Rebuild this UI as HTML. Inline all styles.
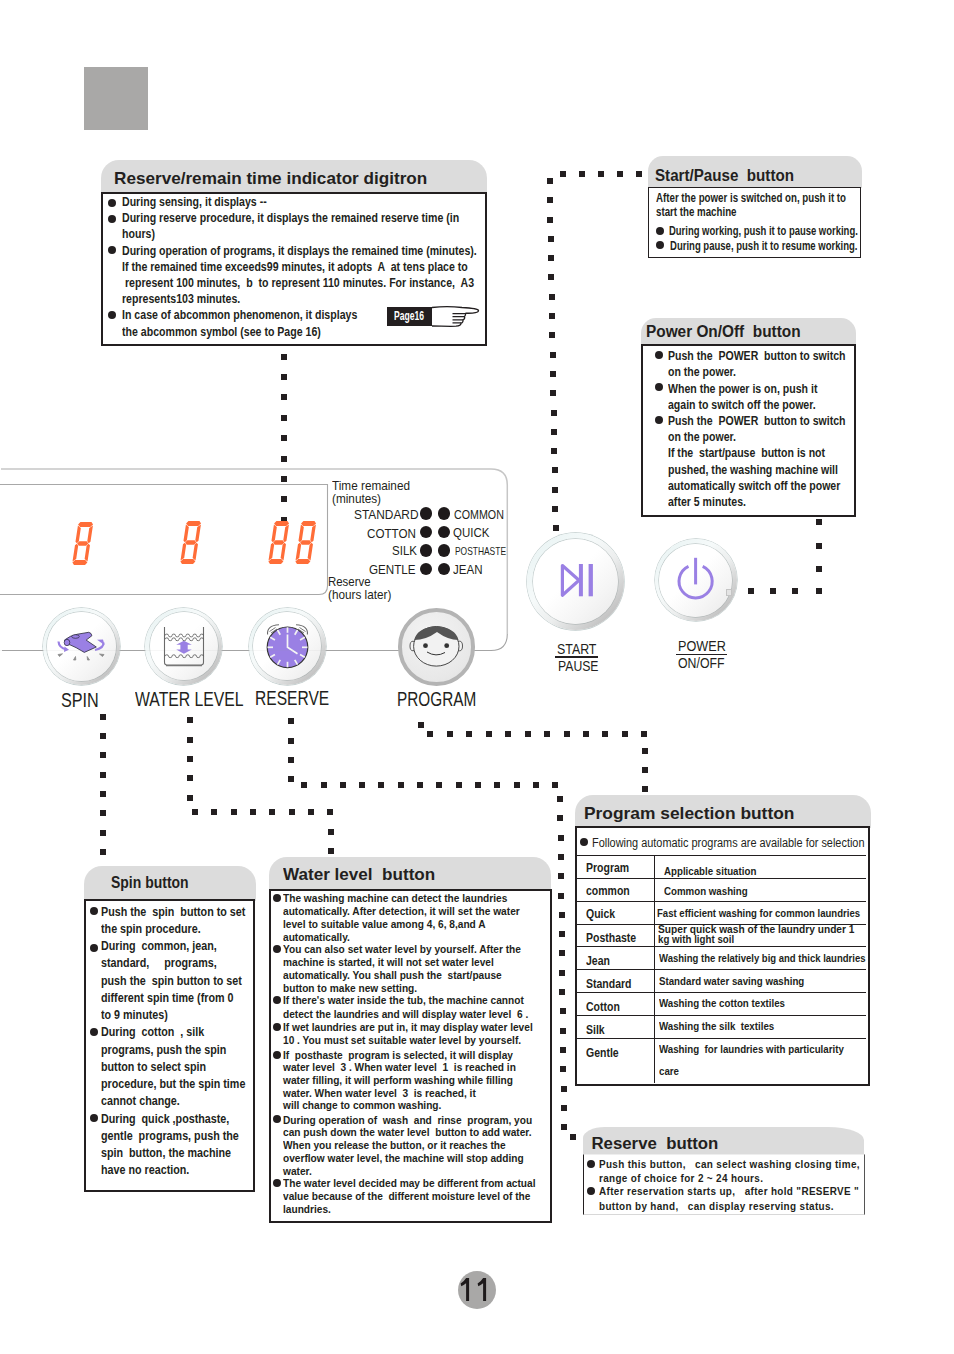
<!DOCTYPE html><html><head><meta charset="utf-8"><style>
html,body{margin:0;padding:0;background:#fff;}
body{width:954px;height:1354px;position:relative;overflow:hidden;font-family:"Liberation Sans",sans-serif;}
.t{position:absolute;white-space:pre;transform-origin:0 0;}
.b{position:absolute;border-radius:50%;}
.d{position:absolute;width:6px;height:6px;background:#231f20;}
.btn{position:absolute;border-radius:50%;background:linear-gradient(135deg,#e6f2f2 0%,#f6fafa 38%,#eceeee 58%,#c8c8c8 82%,#acacac 100%);box-shadow:0 0 0 0.7px rgba(185,198,198,0.9);}
.bi{position:absolute;border-radius:50%;background:linear-gradient(135deg,#ffffff 0%,#ffffff 45%,#f5f5f5 72%,#e8e8e8 100%);box-shadow:0 0 0 0.7px rgba(150,160,160,0.55);}
</style></head><body>
<div style="position:absolute;left:84.00px;top:67.00px;width:64.00px;height:63.00px;background:#a9a8a7"></div>
<div style="position:absolute;left:101.00px;top:160.00px;width:386.00px;height:34.00px;background:#dcdcdc;border-radius:18px 18px 0 0"></div>
<div style="position:absolute;left:101.00px;top:192.00px;width:386.00px;height:154.00px;border:2px solid #231f20;box-sizing:border-box;"></div>
<div class="t" style="left:114.30px;top:169.31px;font-size:17px;line-height:20.4px;font-weight:700;color:#231f20;transform:scaleX(1.0080);">Reserve/remain time indicator digitron</div>
<div class="t" style="left:122.00px;top:194.97px;font-size:12.5px;line-height:15.0px;font-weight:700;color:#231f20;transform:scaleX(0.8470);">During sensing, it displays --</div>
<div class="b" style="left:108.20px;top:199.20px;width:8px;height:8px;background:#231f20"></div>
<div class="t" style="left:122.00px;top:211.17px;font-size:12.5px;line-height:15.0px;font-weight:700;color:#231f20;transform:scaleX(0.8470);">During reserve procedure, it displays the remained reserve time (in</div>
<div class="b" style="left:108.20px;top:215.40px;width:8px;height:8px;background:#231f20"></div>
<div class="t" style="left:122.00px;top:227.37px;font-size:12.5px;line-height:15.0px;font-weight:700;color:#231f20;transform:scaleX(0.8470);">hours)</div>
<div class="t" style="left:122.00px;top:243.57px;font-size:12.5px;line-height:15.0px;font-weight:700;color:#231f20;transform:scaleX(0.8470);">During operation of programs, it displays the remained time (minutes).</div>
<div class="b" style="left:108.20px;top:246.40px;width:8px;height:8px;background:#231f20"></div>
<div class="t" style="left:122.00px;top:259.77px;font-size:12.5px;line-height:15.0px;font-weight:700;color:#231f20;transform:scaleX(0.8470);">If the remained time exceeds99 minutes, it adopts  A  at tens place to</div>
<div class="t" style="left:122.00px;top:275.97px;font-size:12.5px;line-height:15.0px;font-weight:700;color:#231f20;transform:scaleX(0.8470);"> represent 100 minutes,  b  to represent 110 minutes. For instance,  A3</div>
<div class="t" style="left:122.00px;top:292.17px;font-size:12.5px;line-height:15.0px;font-weight:700;color:#231f20;transform:scaleX(0.8470);">represents103 minutes.</div>
<div class="t" style="left:122.00px;top:308.37px;font-size:12.5px;line-height:15.0px;font-weight:700;color:#231f20;transform:scaleX(0.8470);">In case of abcommon phenomenon, it displays</div>
<div class="b" style="left:108.20px;top:311.20px;width:8px;height:8px;background:#231f20"></div>
<div class="t" style="left:122.00px;top:324.57px;font-size:12.5px;line-height:15.0px;font-weight:700;color:#231f20;transform:scaleX(0.8470);">the abcommon symbol (see to Page 16)</div>
<div style="position:absolute;left:387.00px;top:307.00px;width:45.00px;height:19.00px;background:#231f20"></div>
<div class="t" style="left:394.40px;top:309.24px;font-size:12px;line-height:14.4px;font-weight:700;color:#fff;transform:scaleX(0.7138);">Page16</div>
<svg style="position:absolute;left:428px;top:302px" width="56" height="30" viewBox="0 0 56 30">
<path d="M4 5.5 C12 4.5 22 4 34 5.5 C44 6 50 6.5 50.5 8.5 C51 10.5 46 11.5 38 11.2 L37.5 11.5 C38 13 37 14 36.5 14.5 C37 16 36 17.5 35 18 C35.5 19.5 34 21 33 21.2 C33 23 31 24 28 24.2 C20 24.5 12 24 4 24" fill="#fff" stroke="#231f20" stroke-width="1.3"/>
<path d="M24.5 11.6 H37 M24.5 14.6 H36.5 M24.5 17.8 H35 M24.5 20.8 H33" stroke="#231f20" stroke-width="1.2" fill="none"/>
</svg>
<div class="d" style="left:281.30px;top:353.60px"></div>
<div class="d" style="left:281.30px;top:374.00px"></div>
<div class="d" style="left:281.30px;top:394.40px"></div>
<div class="d" style="left:281.30px;top:414.80px"></div>
<div class="d" style="left:281.30px;top:435.20px"></div>
<div class="d" style="left:281.30px;top:455.60px"></div>
<div class="d" style="left:281.30px;top:476.00px"></div>
<div class="d" style="left:281.30px;top:496.40px"></div>
<div class="d" style="left:281.30px;top:516.80px"></div>
<div style="position:absolute;left:648.00px;top:156.00px;width:214.00px;height:32.00px;background:#dcdcdc;border-radius:15px 15px 0 0"></div>
<div style="position:absolute;left:648.00px;top:186.50px;width:213.00px;height:71.00px;border:1.5px solid #231f20;box-sizing:border-box;"></div>
<div class="t" style="left:655.20px;top:166.06px;font-size:16px;line-height:19.2px;font-weight:700;color:#231f20;transform:scaleX(0.9476);">Start/Pause  button</div>
<div class="t" style="left:656.00px;top:191.34px;font-size:12px;line-height:14.4px;font-weight:700;color:#231f20;transform:scaleX(0.8096);">After the power is switched on, push it to</div>
<div class="t" style="left:656.00px;top:205.14px;font-size:12px;line-height:14.4px;font-weight:700;color:#231f20;transform:scaleX(0.8100);">start the machine</div>
<div class="t" style="left:668.70px;top:224.44px;font-size:12px;line-height:14.4px;font-weight:700;color:#231f20;transform:scaleX(0.7888);">During working, push it to pause working.</div>
<div class="b" style="left:656.00px;top:227.00px;width:8px;height:8px;background:#231f20"></div>
<div class="t" style="left:669.50px;top:238.74px;font-size:12px;line-height:14.4px;font-weight:700;color:#231f20;transform:scaleX(0.7944);">During pause, push it to resume working.</div>
<div class="b" style="left:656.00px;top:241.30px;width:8px;height:8px;background:#231f20"></div>
<div class="d" style="left:559.50px;top:171.20px"></div>
<div class="d" style="left:578.50px;top:171.20px"></div>
<div class="d" style="left:597.70px;top:171.20px"></div>
<div class="d" style="left:616.70px;top:171.20px"></div>
<div class="d" style="left:635.90px;top:171.20px"></div>
<div class="d" style="left:546.50px;top:177.90px"></div>
<div class="d" style="left:546.85px;top:197.20px"></div>
<div class="d" style="left:547.20px;top:216.50px"></div>
<div class="d" style="left:547.55px;top:235.80px"></div>
<div class="d" style="left:547.90px;top:255.10px"></div>
<div class="d" style="left:548.25px;top:274.40px"></div>
<div class="d" style="left:548.60px;top:293.70px"></div>
<div class="d" style="left:548.95px;top:313.00px"></div>
<div class="d" style="left:549.30px;top:332.30px"></div>
<div class="d" style="left:549.65px;top:351.60px"></div>
<div class="d" style="left:550.00px;top:370.90px"></div>
<div class="d" style="left:550.35px;top:390.20px"></div>
<div class="d" style="left:550.70px;top:409.50px"></div>
<div class="d" style="left:551.05px;top:428.80px"></div>
<div class="d" style="left:551.40px;top:448.10px"></div>
<div class="d" style="left:551.75px;top:467.40px"></div>
<div class="d" style="left:552.10px;top:486.70px"></div>
<div class="d" style="left:552.45px;top:506.00px"></div>
<div class="d" style="left:552.80px;top:525.30px"></div>
<div style="position:absolute;left:641.00px;top:318.30px;width:214.50px;height:27.70px;background:#dcdcdc;border-radius:15px 15px 0 0"></div>
<div style="position:absolute;left:641.00px;top:344.00px;width:214.50px;height:173.00px;border:2px solid #231f20;box-sizing:border-box;"></div>
<div class="t" style="left:646.40px;top:322.06px;font-size:16px;line-height:19.2px;font-weight:700;color:#231f20;transform:scaleX(0.9610);">Power On/Off  button</div>
<div class="t" style="left:668.20px;top:349.24px;font-size:12px;line-height:14.4px;font-weight:700;color:#231f20;transform:scaleX(0.8790);">Push the  POWER  button to switch</div>
<div class="b" style="left:655.20px;top:350.80px;width:8px;height:8px;background:#231f20"></div>
<div class="t" style="left:668.20px;top:365.44px;font-size:12px;line-height:14.4px;font-weight:700;color:#231f20;transform:scaleX(0.8790);">on the power.</div>
<div class="t" style="left:668.20px;top:381.64px;font-size:12px;line-height:14.4px;font-weight:700;color:#231f20;transform:scaleX(0.8790);">When the power is on, push it</div>
<div class="b" style="left:655.20px;top:383.20px;width:8px;height:8px;background:#231f20"></div>
<div class="t" style="left:668.20px;top:397.84px;font-size:12px;line-height:14.4px;font-weight:700;color:#231f20;transform:scaleX(0.8790);">again to switch off the power.</div>
<div class="t" style="left:668.20px;top:414.04px;font-size:12px;line-height:14.4px;font-weight:700;color:#231f20;transform:scaleX(0.8790);">Push the  POWER  button to switch</div>
<div class="b" style="left:655.20px;top:415.60px;width:8px;height:8px;background:#231f20"></div>
<div class="t" style="left:668.20px;top:430.24px;font-size:12px;line-height:14.4px;font-weight:700;color:#231f20;transform:scaleX(0.8790);">on the power.</div>
<div class="t" style="left:668.20px;top:446.44px;font-size:12px;line-height:14.4px;font-weight:700;color:#231f20;transform:scaleX(0.8790);">If the  start/pause  button is not</div>
<div class="t" style="left:668.20px;top:462.64px;font-size:12px;line-height:14.4px;font-weight:700;color:#231f20;transform:scaleX(0.8790);">pushed, the washing machine will</div>
<div class="t" style="left:668.20px;top:478.84px;font-size:12px;line-height:14.4px;font-weight:700;color:#231f20;transform:scaleX(0.8790);">automatically switch off the power</div>
<div class="t" style="left:668.20px;top:495.04px;font-size:12px;line-height:14.4px;font-weight:700;color:#231f20;transform:scaleX(0.8790);">after 5 minutes.</div>
<div class="d" style="left:815.70px;top:519.10px"></div>
<div class="d" style="left:815.70px;top:542.50px"></div>
<div class="d" style="left:815.70px;top:566.20px"></div>
<div class="d" style="left:748.20px;top:587.80px"></div>
<div class="d" style="left:770.30px;top:587.80px"></div>
<div class="d" style="left:792.30px;top:587.80px"></div>
<div class="d" style="left:815.70px;top:587.80px"></div>
<svg style="position:absolute;left:0;top:0" width="954" height="700" viewBox="0 0 954 700">
<path d="M1 469 H491 Q507.3 469 507.3 485 V634" fill="none" stroke="#c6c6c6" stroke-width="1.5"/>
<path d="M507.3 634 Q507.3 650.5 491 650.5 H2" fill="none" stroke="#a4a4a4" stroke-width="1.1"/>
<path d="M0 484.5 H327.5 V586 Q327.5 594.5 319 594.5 H0" fill="none" stroke="#a8a8a8" stroke-width="1.1"/>
</svg>
<svg style="position:absolute;left:72.00px;top:521.50px" width="23" height="44"><path d="M8.45,0.00 L19.45,0.00 L21.07,2.50 L18.20,5.00 L8.20,5.00 L6.08,2.50 Z M5.94,3.40 L8.85,6.00 L6.87,19.20 L4.87,21.20 L3.48,19.80 Z M20.94,3.40 L18.48,19.80 L16.67,21.20 L15.27,19.20 L17.25,6.00 Z M5.12,21.50 L7.46,19.30 L14.65,19.30 L16.32,21.50 L13.99,23.70 L6.79,23.70 Z M2.97,23.20 L4.78,21.80 L6.18,23.80 L4.20,37.00 L0.51,39.60 Z M17.97,23.20 L15.51,39.60 L12.60,37.00 L14.58,23.80 L16.58,21.80 Z M0.38,40.50 L3.25,38.00 L13.25,38.00 L15.38,40.50 L13.00,43.00 L2.00,43.00 Z " fill="#ff6d38"/></svg>
<svg style="position:absolute;left:179.60px;top:520.70px" width="23" height="44"><path d="M8.45,0.00 L19.45,0.00 L21.07,2.50 L18.20,5.00 L8.20,5.00 L6.08,2.50 Z M5.94,3.40 L8.85,6.00 L6.87,19.20 L4.87,21.20 L3.48,19.80 Z M20.94,3.40 L18.48,19.80 L16.67,21.20 L15.27,19.20 L17.25,6.00 Z M5.12,21.50 L7.46,19.30 L14.65,19.30 L16.32,21.50 L13.99,23.70 L6.79,23.70 Z M2.97,23.20 L4.78,21.80 L6.18,23.80 L4.20,37.00 L0.51,39.60 Z M17.97,23.20 L15.51,39.60 L12.60,37.00 L14.58,23.80 L16.58,21.80 Z M0.38,40.50 L3.25,38.00 L13.25,38.00 L15.38,40.50 L13.00,43.00 L2.00,43.00 Z " fill="#ff6d38"/></svg>
<svg style="position:absolute;left:267.60px;top:521.00px" width="23" height="44"><path d="M8.45,0.00 L19.45,0.00 L21.07,2.50 L18.20,5.00 L8.20,5.00 L6.08,2.50 Z M5.94,3.40 L8.85,6.00 L6.87,19.20 L4.87,21.20 L3.48,19.80 Z M20.94,3.40 L18.48,19.80 L16.67,21.20 L15.27,19.20 L17.25,6.00 Z M5.12,21.50 L7.46,19.30 L14.65,19.30 L16.32,21.50 L13.99,23.70 L6.79,23.70 Z M2.97,23.20 L4.78,21.80 L6.18,23.80 L4.20,37.00 L0.51,39.60 Z M17.97,23.20 L15.51,39.60 L12.60,37.00 L14.58,23.80 L16.58,21.80 Z M0.38,40.50 L3.25,38.00 L13.25,38.00 L15.38,40.50 L13.00,43.00 L2.00,43.00 Z " fill="#ff6d38"/></svg>
<svg style="position:absolute;left:295.00px;top:521.00px" width="23" height="44"><path d="M8.45,0.00 L19.45,0.00 L21.07,2.50 L18.20,5.00 L8.20,5.00 L6.08,2.50 Z M5.94,3.40 L8.85,6.00 L6.87,19.20 L4.87,21.20 L3.48,19.80 Z M20.94,3.40 L18.48,19.80 L16.67,21.20 L15.27,19.20 L17.25,6.00 Z M5.12,21.50 L7.46,19.30 L14.65,19.30 L16.32,21.50 L13.99,23.70 L6.79,23.70 Z M2.97,23.20 L4.78,21.80 L6.18,23.80 L4.20,37.00 L0.51,39.60 Z M17.97,23.20 L15.51,39.60 L12.60,37.00 L14.58,23.80 L16.58,21.80 Z M0.38,40.50 L3.25,38.00 L13.25,38.00 L15.38,40.50 L13.00,43.00 L2.00,43.00 Z " fill="#ff6d38"/></svg>
<div class="t" style="left:331.50px;top:478.30px;font-size:13px;line-height:15.6px;font-weight:400;color:#231f20;transform:scaleX(0.9047);">Time remained</div>
<div class="t" style="left:331.50px;top:490.50px;font-size:13px;line-height:15.6px;font-weight:400;color:#231f20;transform:scaleX(0.9050);">(minutes)</div>
<div class="t" style="left:354.00px;top:506.72px;font-size:13.5px;line-height:16.2px;font-weight:400;color:#231f20;transform:scaleX(0.8805);">STANDARD</div>
<div class="t" style="left:367.20px;top:525.62px;font-size:13.5px;line-height:16.2px;font-weight:400;color:#231f20;transform:scaleX(0.8599);">COTTON</div>
<div class="t" style="left:392.00px;top:543.42px;font-size:13.5px;line-height:16.2px;font-weight:400;color:#231f20;transform:scaleX(0.8542);">SILK</div>
<div class="t" style="left:368.80px;top:561.62px;font-size:13.5px;line-height:16.2px;font-weight:400;color:#231f20;transform:scaleX(0.8627);">GENTLE</div>
<div class="t" style="left:453.50px;top:507.20px;font-size:13px;line-height:15.6px;font-weight:400;color:#231f20;transform:scaleX(0.8226);">COMMON</div>
<div class="t" style="left:453.00px;top:525.22px;font-size:13.5px;line-height:16.2px;font-weight:400;color:#231f20;transform:scaleX(0.8514);">QUICK</div>
<div class="t" style="left:455.20px;top:544.72px;font-size:11.5px;line-height:13.8px;font-weight:400;color:#231f20;transform:scaleX(0.7322);">POSTHASTE</div>
<div class="t" style="left:453.00px;top:562.02px;font-size:13.5px;line-height:16.2px;font-weight:400;color:#231f20;transform:scaleX(0.8548);">JEAN</div>
<div class="t" style="left:328.00px;top:573.70px;font-size:13px;line-height:15.6px;font-weight:400;color:#231f20;transform:scaleX(0.8800);">Reserve</div>
<div class="t" style="left:328.00px;top:586.90px;font-size:13px;line-height:15.6px;font-weight:400;color:#231f20;transform:scaleX(0.9032);">(hours later)</div>
<div class="b" style="left:419.60px;top:507.20px;width:12.6px;height:12.6px;background:#1e1a1b"></div>
<div class="b" style="left:437.80px;top:507.20px;width:12.6px;height:12.6px;background:#1e1a1b"></div>
<div class="b" style="left:419.60px;top:525.60px;width:12.6px;height:12.6px;background:#1e1a1b"></div>
<div class="b" style="left:437.80px;top:525.60px;width:12.6px;height:12.6px;background:#1e1a1b"></div>
<div class="b" style="left:419.60px;top:544.30px;width:12.6px;height:12.6px;background:#1e1a1b"></div>
<div class="b" style="left:437.80px;top:544.30px;width:12.6px;height:12.6px;background:#1e1a1b"></div>
<div class="b" style="left:419.60px;top:562.70px;width:12.6px;height:12.6px;background:#1e1a1b"></div>
<div class="b" style="left:437.80px;top:562.70px;width:12.6px;height:12.6px;background:#1e1a1b"></div>
<div class="btn" style="left:42.50px;top:607.80px;width:77.60px;height:77.60px"><div class="bi" style="left:4.50px;top:4.50px;width:68.60px;height:68.60px"></div></div>
<div class="btn" style="left:145.40px;top:607.70px;width:77.00px;height:77.00px"><div class="bi" style="left:4.50px;top:4.50px;width:68.00px;height:68.00px"></div></div>
<div class="btn" style="left:248.90px;top:607.50px;width:77.00px;height:77.00px"><div class="bi" style="left:4.50px;top:4.50px;width:68.00px;height:68.00px"></div></div>
<div style="position:absolute;left:397.6px;top:608.2px;width:77.4px;height:77.4px;border-radius:50%;box-sizing:border-box;border:4px solid #b4b4b4;background:radial-gradient(circle at 40% 35%,#f4f4f4,#e8e8e8 70%,#dedede)"></div>
<div class="btn" style="left:527.00px;top:533.00px;width:96.60px;height:96.60px"><div class="bi" style="left:5.50px;top:5.50px;width:85.60px;height:85.60px"></div></div>
<div class="btn" style="left:654.80px;top:539.30px;width:82.00px;height:82.00px"><div class="bi" style="left:4.50px;top:4.50px;width:73.00px;height:73.00px"></div></div>
<svg style="position:absolute;left:51px;top:620px" width="60" height="50" viewBox="51 620 60 50">
<path d="M58.5 641.5 Q59 648 66.5 649.5" fill="none" stroke="#9a80e4" stroke-width="2.2"/>
<path d="M64.5 646.5 L69 649.8 L64 652 Z" fill="#9a80e4"/>
<path d="M95 650 Q104 648 103.5 642.5" fill="none" stroke="#9a80e4" stroke-width="2.2"/>
<path d="M97 639.8 L103 639.5 L104.5 645 Z" fill="#9a80e4"/>
<path d="M64.5 640 Q70 635.5 77.4 634.2 L88.7 632.3 Q91.5 632.8 91.9 635.7 L86.2 640.1 L96.3 647 L84.3 652.4 L76.2 647.7 L69.9 644.8 Q65 644.5 64.5 640 Z" fill="#9a80e4" stroke="#2a2a3a" stroke-width="0.8" stroke-linejoin="round"/>
<ellipse cx="67" cy="642.5" rx="2.8" ry="3.2" fill="#9a80e4" stroke="#2a2a3a" stroke-width="0.7"/>
<ellipse cx="75.5" cy="636.5" rx="3.8" ry="1.8" fill="#9a80e4" stroke="#2a2a3a" stroke-width="0.7"/>
<path d="M58 654.5 L62.5 653.8 L59.5 656.5 Z M73.5 660 L75.5 656.5 L75.8 660 Z M87.2 656.5 L89.5 660 L87.5 660 Z M99.5 654 L104 654.5 L102.5 656.5 Z" fill="#8a8a8a" stroke="#8a8a8a" stroke-width="0.8"/>
</svg>
<svg style="position:absolute;left:155px;top:615px" width="60" height="60" viewBox="155 615 60 60">
<path d="M164.5 627 V662.5 Q164.5 665 167 665 H201 Q203.5 665 203.5 662.5 V627" fill="none" stroke="#6a6a6a" stroke-width="1.1"/>
<path d="M166 665.6 H202" stroke="#777" stroke-width="1.2"/>
<path d="M165 635.5 a1.75 1.4 0 0 1 3.5 0 a1.75 1.4 0 0 0 3.5 0 a1.75 1.4 0 0 1 3.5 0 a1.75 1.4 0 0 0 3.5 0 a1.75 1.4 0 0 1 3.5 0 a1.75 1.4 0 0 0 3.5 0 a1.75 1.4 0 0 1 3.5 0 a1.75 1.4 0 0 0 3.5 0 a1.75 1.4 0 0 1 3.5 0 a1.75 1.4 0 0 0 3.5 0 a1.75 1.4 0 0 1 3.5 0" transform="translate(0,0)" fill="none" stroke="#555" stroke-width="0.8"/>
<path d="M165 639.3 a1.75 1.4 0 0 1 3.5 0 a1.75 1.4 0 0 0 3.5 0 a1.75 1.4 0 0 1 3.5 0 a1.75 1.4 0 0 0 3.5 0 a1.75 1.4 0 0 1 3.5 0 a1.75 1.4 0 0 0 3.5 0 a1.75 1.4 0 0 1 3.5 0 a1.75 1.4 0 0 0 3.5 0 a1.75 1.4 0 0 1 3.5 0 a1.75 1.4 0 0 0 3.5 0 a1.75 1.4 0 0 1 3.5 0" fill="none" stroke="#555" stroke-width="0.8"/>
<path d="M165 656.2 a1.75 1.4 0 0 1 3.5 0 a1.75 1.4 0 0 0 3.5 0 a1.75 1.4 0 0 1 3.5 0 a1.75 1.4 0 0 0 3.5 0 a1.75 1.4 0 0 1 3.5 0 a1.75 1.4 0 0 0 3.5 0 a1.75 1.4 0 0 1 3.5 0 a1.75 1.4 0 0 0 3.5 0 a1.75 1.4 0 0 1 3.5 0 a1.75 1.4 0 0 0 3.5 0 a1.75 1.4 0 0 1 3.5 0" fill="none" stroke="#555" stroke-width="0.8"/>
<path d="M183.9 640.8 L191.8 644.8 H187.7 V649.4 H191.8 L183.9 653.7 L176.2 649.4 H180.4 V644.8 H176.2 Z" fill="#9a80e4"/>
</svg>
<svg style="position:absolute;left:257px;top:616px" width="60" height="60" viewBox="257 616 60 60">
<path d="M267.6 634.5 Q266.5 625.5 279 624.8" fill="none" stroke="#6a6a6a" stroke-width="1.1"/>
<path d="M269.5 631.5 L275.5 627.5 M271 633 L277 629" stroke="#6a6a6a" stroke-width="0.9"/>
<path d="M307.4 634.5 Q308.5 625.5 296 624.8" fill="none" stroke="#6a6a6a" stroke-width="1.1"/>
<path d="M305.5 631.5 L299.5 627.5 M304 633 L298 629" stroke="#6a6a6a" stroke-width="0.9"/>
<circle cx="287.5" cy="647.3" r="20.3" fill="#9a80e4" stroke="#333" stroke-width="1.2"/>
<line x1="287.50" y1="632.80" x2="287.50" y2="627.30" stroke="#f2f2f2" stroke-width="1.7"/><line x1="294.75" y1="634.74" x2="297.50" y2="629.98" stroke="#f2f2f2" stroke-width="1.7"/><line x1="300.06" y1="640.05" x2="304.82" y2="637.30" stroke="#f2f2f2" stroke-width="1.7"/><line x1="302.00" y1="647.30" x2="307.50" y2="647.30" stroke="#f2f2f2" stroke-width="1.7"/><line x1="300.06" y1="654.55" x2="304.82" y2="657.30" stroke="#f2f2f2" stroke-width="1.7"/><line x1="294.75" y1="659.86" x2="297.50" y2="664.62" stroke="#f2f2f2" stroke-width="1.7"/><line x1="287.50" y1="661.80" x2="287.50" y2="667.30" stroke="#f2f2f2" stroke-width="1.7"/><line x1="280.25" y1="659.86" x2="277.50" y2="664.62" stroke="#f2f2f2" stroke-width="1.7"/><line x1="274.94" y1="654.55" x2="270.18" y2="657.30" stroke="#f2f2f2" stroke-width="1.7"/><line x1="273.00" y1="647.30" x2="267.50" y2="647.30" stroke="#f2f2f2" stroke-width="1.7"/><line x1="274.94" y1="640.05" x2="270.18" y2="637.30" stroke="#f2f2f2" stroke-width="1.7"/><line x1="280.25" y1="634.74" x2="277.50" y2="629.98" stroke="#f2f2f2" stroke-width="1.7"/>
<path d="M287.5 634.5 V647.3 L297.5 653.8" fill="none" stroke="#f5f5f5" stroke-width="1.7"/>
</svg>
<svg style="position:absolute;left:400px;top:615px" width="72" height="62" viewBox="400 615 72 62">
<ellipse cx="413" cy="646" rx="3" ry="4.8" fill="#f2f2f2" stroke="#333" stroke-width="0.8"/>
<ellipse cx="459.5" cy="646" rx="3" ry="4.8" fill="#f2f2f2" stroke="#333" stroke-width="0.8"/>
<ellipse cx="436.3" cy="646.3" rx="22.7" ry="19.8" fill="#f2f2f2" stroke="#333" stroke-width="0.9"/>
<path d="M414.2 640 Q417 627.5 436.3 626.5 Q455.5 627.5 458.5 640 Q448 640 437 632 Q426 640 414.2 640 Z" fill="#555"/>
<circle cx="425.5" cy="645.7" r="2.4" fill="#333"/>
<circle cx="446.7" cy="645.7" r="2.4" fill="#333"/>
<path d="M427 652 Q436 657.5 445 652.5" fill="none" stroke="#333" stroke-width="1"/>
</svg>
<svg style="position:absolute;left:550px;top:556px" width="50" height="50" viewBox="550 556 50 50">
<path d="M562.4 565.5 L579 580.3 L562.4 595.2 Z" fill="none" stroke="#9a80e4" stroke-width="3.2" stroke-linejoin="round"/>
<rect x="578.9" y="564" width="4" height="32.3" fill="#9a80e4"/>
<rect x="588.6" y="564" width="4.3" height="32.3" fill="#9a80e4"/>
</svg>
<svg style="position:absolute;left:670px;top:550px" width="52" height="52" viewBox="670 550 52 52">
<path d="M688.5 566.3 A16.6 16.6 0 1 0 702.7 566.3" fill="none" stroke="#9a80e4" stroke-width="3"/>
<rect x="694.1" y="557.8" width="3" height="26.6" fill="#9a80e4"/>
</svg>
<div style="position:absolute;left:0;top:650px;width:398px;height:1px;background:rgba(150,150,150,0.08)"></div>
<div class="t" style="left:60.90px;top:689.24px;font-size:19.5px;line-height:23.4px;font-weight:400;color:#231f20;transform:scaleX(0.8305);">SPIN</div>
<div class="t" style="left:134.80px;top:688.04px;font-size:19.5px;line-height:23.4px;font-weight:400;color:#231f20;transform:scaleX(0.8082);">WATER LEVEL</div>
<div class="t" style="left:255.00px;top:686.94px;font-size:19.5px;line-height:23.4px;font-weight:400;color:#231f20;transform:scaleX(0.7991);">RESERVE</div>
<div class="t" style="left:397.00px;top:688.04px;font-size:19.5px;line-height:23.4px;font-weight:400;color:#231f20;transform:scaleX(0.7860);">PROGRAM</div>
<div class="t" style="left:556.70px;top:641.15px;font-size:14px;line-height:16.8px;font-weight:400;color:#231f20;transform:scaleX(0.8834);">START</div>
<div style="position:absolute;left:555.00px;top:656.20px;width:43.00px;height:1.50px;background:#231f20"></div>
<div class="t" style="left:557.50px;top:658.15px;font-size:14px;line-height:16.8px;font-weight:400;color:#231f20;transform:scaleX(0.8724);">PAUSE</div>
<div class="t" style="left:677.70px;top:638.45px;font-size:14px;line-height:16.8px;font-weight:400;color:#231f20;transform:scaleX(0.9038);">POWER</div>
<div style="position:absolute;left:676.00px;top:653.50px;width:51.00px;height:1.50px;background:#231f20"></div>
<div class="t" style="left:678.40px;top:654.75px;font-size:14px;line-height:16.8px;font-weight:400;color:#231f20;transform:scaleX(0.8793);">ON/OFF</div>
<div style="position:absolute;left:726px;top:588.5px;width:4px;height:5px;border:1px solid #c4c4c4;background:#e4e4e4"></div>
<div class="d" style="left:99.65px;top:713.75px"></div>
<div class="d" style="left:99.65px;top:733.05px"></div>
<div class="d" style="left:99.65px;top:752.35px"></div>
<div class="d" style="left:99.65px;top:771.65px"></div>
<div class="d" style="left:99.65px;top:790.95px"></div>
<div class="d" style="left:99.65px;top:810.25px"></div>
<div class="d" style="left:99.65px;top:829.55px"></div>
<div class="d" style="left:99.65px;top:848.85px"></div>
<div class="d" style="left:187.45px;top:717.25px"></div>
<div class="d" style="left:187.45px;top:736.65px"></div>
<div class="d" style="left:187.45px;top:756.05px"></div>
<div class="d" style="left:187.45px;top:775.45px"></div>
<div class="d" style="left:187.45px;top:794.85px"></div>
<div class="d" style="left:192.05px;top:809.05px"></div>
<div class="d" style="left:211.35px;top:809.05px"></div>
<div class="d" style="left:230.65px;top:809.05px"></div>
<div class="d" style="left:249.95px;top:809.05px"></div>
<div class="d" style="left:269.25px;top:809.05px"></div>
<div class="d" style="left:288.55px;top:809.05px"></div>
<div class="d" style="left:307.85px;top:809.05px"></div>
<div class="d" style="left:327.15px;top:809.05px"></div>
<div class="d" style="left:328.35px;top:828.75px"></div>
<div class="d" style="left:328.35px;top:847.75px"></div>
<div class="d" style="left:288.05px;top:718.15px"></div>
<div class="d" style="left:288.05px;top:737.55px"></div>
<div class="d" style="left:288.05px;top:756.95px"></div>
<div class="d" style="left:288.05px;top:776.35px"></div>
<div class="d" style="left:301.25px;top:781.75px"></div>
<div class="d" style="left:320.55px;top:781.75px"></div>
<div class="d" style="left:339.85px;top:781.75px"></div>
<div class="d" style="left:359.15px;top:781.75px"></div>
<div class="d" style="left:378.45px;top:781.75px"></div>
<div class="d" style="left:397.75px;top:781.75px"></div>
<div class="d" style="left:417.05px;top:781.75px"></div>
<div class="d" style="left:436.35px;top:781.75px"></div>
<div class="d" style="left:455.65px;top:781.75px"></div>
<div class="d" style="left:474.95px;top:781.75px"></div>
<div class="d" style="left:494.25px;top:781.75px"></div>
<div class="d" style="left:513.55px;top:781.75px"></div>
<div class="d" style="left:532.85px;top:781.75px"></div>
<div class="d" style="left:552.15px;top:781.75px"></div>
<div class="d" style="left:557.15px;top:796.05px"></div>
<div class="d" style="left:557.38px;top:815.35px"></div>
<div class="d" style="left:557.61px;top:834.65px"></div>
<div class="d" style="left:557.84px;top:853.95px"></div>
<div class="d" style="left:558.07px;top:873.25px"></div>
<div class="d" style="left:558.30px;top:892.55px"></div>
<div class="d" style="left:558.53px;top:911.85px"></div>
<div class="d" style="left:558.76px;top:931.15px"></div>
<div class="d" style="left:558.99px;top:950.45px"></div>
<div class="d" style="left:559.21px;top:969.75px"></div>
<div class="d" style="left:559.44px;top:989.05px"></div>
<div class="d" style="left:559.67px;top:1008.35px"></div>
<div class="d" style="left:559.90px;top:1027.65px"></div>
<div class="d" style="left:560.13px;top:1046.95px"></div>
<div class="d" style="left:560.36px;top:1066.25px"></div>
<div class="d" style="left:560.59px;top:1085.55px"></div>
<div class="d" style="left:560.82px;top:1104.85px"></div>
<div class="d" style="left:561.05px;top:1124.15px"></div>
<div class="d" style="left:561.05px;top:1124.35px"></div>
<div class="d" style="left:570.45px;top:1134.35px"></div>
<div class="d" style="left:417.95px;top:721.95px"></div>
<div class="d" style="left:427.35px;top:730.65px"></div>
<div class="d" style="left:446.81px;top:730.65px"></div>
<div class="d" style="left:466.27px;top:730.65px"></div>
<div class="d" style="left:485.73px;top:730.65px"></div>
<div class="d" style="left:505.19px;top:730.65px"></div>
<div class="d" style="left:524.65px;top:730.65px"></div>
<div class="d" style="left:544.11px;top:730.65px"></div>
<div class="d" style="left:563.57px;top:730.65px"></div>
<div class="d" style="left:583.03px;top:730.65px"></div>
<div class="d" style="left:602.49px;top:730.65px"></div>
<div class="d" style="left:621.95px;top:730.65px"></div>
<div class="d" style="left:641.41px;top:730.65px"></div>
<div class="d" style="left:642.35px;top:747.75px"></div>
<div class="d" style="left:642.35px;top:766.75px"></div>
<div class="d" style="left:642.35px;top:786.05px"></div>
<div style="position:absolute;left:84.00px;top:866.00px;width:171.50px;height:35.00px;background:#dcdcdc;border-radius:18px 18px 0 0"></div>
<div style="position:absolute;left:83.50px;top:899.00px;width:171.50px;height:292.50px;border:2px solid #231f20;box-sizing:border-box;"></div>
<div class="t" style="left:110.50px;top:872.56px;font-size:16px;line-height:19.2px;font-weight:700;color:#231f20;transform:scaleX(0.8733);">Spin button</div>
<div class="t" style="left:100.90px;top:904.67px;font-size:12.5px;line-height:15.0px;font-weight:700;color:#231f20;transform:scaleX(0.8590);">Push the  spin  button to set</div>
<div class="b" style="left:89.50px;top:907.00px;width:8px;height:8px;background:#231f20"></div>
<div class="t" style="left:100.90px;top:921.92px;font-size:12.5px;line-height:15.0px;font-weight:700;color:#231f20;transform:scaleX(0.8590);">the spin procedure.</div>
<div class="t" style="left:100.90px;top:939.17px;font-size:12.5px;line-height:15.0px;font-weight:700;color:#231f20;transform:scaleX(0.8590);">During  common, jean,</div>
<div class="b" style="left:89.50px;top:943.70px;width:8px;height:8px;background:#231f20"></div>
<div class="t" style="left:100.90px;top:956.42px;font-size:12.5px;line-height:15.0px;font-weight:700;color:#231f20;transform:scaleX(0.8590);">standard,     programs,</div>
<div class="t" style="left:100.90px;top:973.67px;font-size:12.5px;line-height:15.0px;font-weight:700;color:#231f20;transform:scaleX(0.8590);">push the  spin button to set</div>
<div class="t" style="left:100.90px;top:990.92px;font-size:12.5px;line-height:15.0px;font-weight:700;color:#231f20;transform:scaleX(0.8590);">different spin time (from 0</div>
<div class="t" style="left:100.90px;top:1008.17px;font-size:12.5px;line-height:15.0px;font-weight:700;color:#231f20;transform:scaleX(0.8590);">to 9 minutes)</div>
<div class="t" style="left:100.90px;top:1025.42px;font-size:12.5px;line-height:15.0px;font-weight:700;color:#231f20;transform:scaleX(0.8590);">During  cotton  , silk</div>
<div class="b" style="left:89.50px;top:1027.75px;width:8px;height:8px;background:#231f20"></div>
<div class="t" style="left:100.90px;top:1042.67px;font-size:12.5px;line-height:15.0px;font-weight:700;color:#231f20;transform:scaleX(0.8590);">programs, push the spin</div>
<div class="t" style="left:100.90px;top:1059.92px;font-size:12.5px;line-height:15.0px;font-weight:700;color:#231f20;transform:scaleX(0.8590);">button to select spin</div>
<div class="t" style="left:100.90px;top:1077.17px;font-size:12.5px;line-height:15.0px;font-weight:700;color:#231f20;transform:scaleX(0.8590);">procedure, but the spin time</div>
<div class="t" style="left:100.90px;top:1094.42px;font-size:12.5px;line-height:15.0px;font-weight:700;color:#231f20;transform:scaleX(0.8590);">cannot change.</div>
<div class="t" style="left:100.90px;top:1111.67px;font-size:12.5px;line-height:15.0px;font-weight:700;color:#231f20;transform:scaleX(0.8590);">During  quick ,posthaste,</div>
<div class="b" style="left:89.50px;top:1114.00px;width:8px;height:8px;background:#231f20"></div>
<div class="t" style="left:100.90px;top:1128.92px;font-size:12.5px;line-height:15.0px;font-weight:700;color:#231f20;transform:scaleX(0.8590);">gentle  programs, push the</div>
<div class="t" style="left:100.90px;top:1146.17px;font-size:12.5px;line-height:15.0px;font-weight:700;color:#231f20;transform:scaleX(0.8590);">spin  button, the machine</div>
<div class="t" style="left:100.90px;top:1163.42px;font-size:12.5px;line-height:15.0px;font-weight:700;color:#231f20;transform:scaleX(0.8590);">have no reaction.</div>
<div style="position:absolute;left:268.70px;top:857.00px;width:282.80px;height:34.00px;background:#dcdcdc;border-radius:18px 18px 0 0"></div>
<div style="position:absolute;left:268.70px;top:889.00px;width:283.30px;height:333.70px;border:2px solid #231f20;box-sizing:border-box;"></div>
<div class="t" style="left:282.50px;top:865.38px;font-size:16.5px;line-height:19.8px;font-weight:700;color:#231f20;transform:scaleX(1.0355);">Water level  button</div>
<div class="t" style="left:283.30px;top:892.22px;font-size:11.5px;line-height:13.8px;font-weight:700;color:#231f20;transform:scaleX(0.8820);">The washing machine can detect the laundries</div>
<div class="b" style="left:273.10px;top:894.10px;width:8px;height:8px;background:#231f20"></div>
<div class="t" style="left:283.30px;top:905.02px;font-size:11.5px;line-height:13.8px;font-weight:700;color:#231f20;transform:scaleX(0.8820);">automatically. After detection, it will set the water</div>
<div class="t" style="left:283.30px;top:917.92px;font-size:11.5px;line-height:13.8px;font-weight:700;color:#231f20;transform:scaleX(0.8820);">level to suitable value among 4, 6, 8,and A</div>
<div class="t" style="left:283.30px;top:930.52px;font-size:11.5px;line-height:13.8px;font-weight:700;color:#231f20;transform:scaleX(0.8820);">automatically.</div>
<div class="t" style="left:283.30px;top:943.02px;font-size:11.5px;line-height:13.8px;font-weight:700;color:#231f20;transform:scaleX(0.8820);">You can also set water level by yourself. After the</div>
<div class="b" style="left:273.10px;top:944.90px;width:8px;height:8px;background:#231f20"></div>
<div class="t" style="left:283.30px;top:955.92px;font-size:11.5px;line-height:13.8px;font-weight:700;color:#231f20;transform:scaleX(0.8820);">machine is started, it will not set water level</div>
<div class="t" style="left:283.30px;top:969.02px;font-size:11.5px;line-height:13.8px;font-weight:700;color:#231f20;transform:scaleX(0.8820);">automatically. You shall push the  start/pause</div>
<div class="t" style="left:283.30px;top:981.62px;font-size:11.5px;line-height:13.8px;font-weight:700;color:#231f20;transform:scaleX(0.8820);">button to make new setting.</div>
<div class="t" style="left:283.30px;top:994.22px;font-size:11.5px;line-height:13.8px;font-weight:700;color:#231f20;transform:scaleX(0.8820);">If there's water inside the tub, the machine cannot</div>
<div class="b" style="left:273.10px;top:996.10px;width:8px;height:8px;background:#231f20"></div>
<div class="t" style="left:283.30px;top:1008.12px;font-size:11.5px;line-height:13.8px;font-weight:700;color:#231f20;transform:scaleX(0.8820);">detect the laundries and will display water level  6 .</div>
<div class="t" style="left:283.30px;top:1020.72px;font-size:11.5px;line-height:13.8px;font-weight:700;color:#231f20;transform:scaleX(0.8820);">If wet laundries are put in, it may display water level</div>
<div class="b" style="left:273.10px;top:1022.60px;width:8px;height:8px;background:#231f20"></div>
<div class="t" style="left:283.30px;top:1033.92px;font-size:11.5px;line-height:13.8px;font-weight:700;color:#231f20;transform:scaleX(0.8820);">10 . You must set suitable water level by yourself.</div>
<div class="t" style="left:283.30px;top:1049.02px;font-size:11.5px;line-height:13.8px;font-weight:700;color:#231f20;transform:scaleX(0.8820);">If  posthaste  program is selected, it will display</div>
<div class="b" style="left:273.10px;top:1050.90px;width:8px;height:8px;background:#231f20"></div>
<div class="t" style="left:283.30px;top:1060.72px;font-size:11.5px;line-height:13.8px;font-weight:700;color:#231f20;transform:scaleX(0.8820);">water level  3 . When water level  1  is reached in</div>
<div class="t" style="left:283.30px;top:1073.52px;font-size:11.5px;line-height:13.8px;font-weight:700;color:#231f20;transform:scaleX(0.8820);">water filling, it will perform washing while filling</div>
<div class="t" style="left:283.30px;top:1086.82px;font-size:11.5px;line-height:13.8px;font-weight:700;color:#231f20;transform:scaleX(0.8820);">water. When water level  3  is reached, it</div>
<div class="t" style="left:283.30px;top:1099.32px;font-size:11.5px;line-height:13.8px;font-weight:700;color:#231f20;transform:scaleX(0.8820);">will change to common washing.</div>
<div class="t" style="left:283.30px;top:1113.52px;font-size:11.5px;line-height:13.8px;font-weight:700;color:#231f20;transform:scaleX(0.8820);">During operation of  wash  and  rinse  program, you</div>
<div class="b" style="left:273.10px;top:1115.40px;width:8px;height:8px;background:#231f20"></div>
<div class="t" style="left:283.30px;top:1126.12px;font-size:11.5px;line-height:13.8px;font-weight:700;color:#231f20;transform:scaleX(0.8820);">can push down the water level  button to add water.</div>
<div class="t" style="left:283.30px;top:1139.32px;font-size:11.5px;line-height:13.8px;font-weight:700;color:#231f20;transform:scaleX(0.8820);">When you release the button, or it reaches the</div>
<div class="t" style="left:283.30px;top:1151.92px;font-size:11.5px;line-height:13.8px;font-weight:700;color:#231f20;transform:scaleX(0.8820);">overflow water level, the machine will stop adding</div>
<div class="t" style="left:283.30px;top:1164.72px;font-size:11.5px;line-height:13.8px;font-weight:700;color:#231f20;transform:scaleX(0.8820);">water.</div>
<div class="t" style="left:283.30px;top:1177.02px;font-size:11.5px;line-height:13.8px;font-weight:700;color:#231f20;transform:scaleX(0.8820);">The water level decided may be different from actual</div>
<div class="b" style="left:273.10px;top:1178.90px;width:8px;height:8px;background:#231f20"></div>
<div class="t" style="left:283.30px;top:1190.22px;font-size:11.5px;line-height:13.8px;font-weight:700;color:#231f20;transform:scaleX(0.8820);">value because of the  different moisture level of the</div>
<div class="t" style="left:283.30px;top:1202.82px;font-size:11.5px;line-height:13.8px;font-weight:700;color:#231f20;transform:scaleX(0.8820);">laundries.</div>
<div style="position:absolute;left:575.00px;top:795.40px;width:295.50px;height:32.60px;background:#dcdcdc;border-radius:18px 18px 0 0"></div>
<div style="position:absolute;left:575.00px;top:826.00px;width:295.00px;height:260.00px;border:2.2px solid #231f20;box-sizing:border-box;"></div>
<div class="t" style="left:583.80px;top:803.51px;font-size:17px;line-height:20.4px;font-weight:700;color:#231f20;transform:scaleX(1.0218);">Program selection button</div>
<div class="b" style="left:579.80px;top:838.30px;width:8px;height:8px;background:#231f20"></div>
<div class="t" style="left:591.50px;top:836.14px;font-size:12px;line-height:14.4px;font-weight:400;color:#231f20;transform:scaleX(0.9099);">Following automatic programs are available for selection</div>
<div style="position:absolute;left:577.00px;top:854.80px;width:288.50px;height:1.20px;background:#231f20"></div>
<div style="position:absolute;left:577.00px;top:877.80px;width:288.50px;height:1.20px;background:#231f20"></div>
<div style="position:absolute;left:577.00px;top:900.90px;width:288.50px;height:1.20px;background:#231f20"></div>
<div style="position:absolute;left:577.00px;top:923.90px;width:288.50px;height:1.20px;background:#231f20"></div>
<div style="position:absolute;left:577.00px;top:946.00px;width:288.50px;height:1.20px;background:#231f20"></div>
<div style="position:absolute;left:577.00px;top:968.90px;width:288.50px;height:1.20px;background:#231f20"></div>
<div style="position:absolute;left:577.00px;top:991.90px;width:288.50px;height:1.20px;background:#231f20"></div>
<div style="position:absolute;left:577.00px;top:1014.90px;width:288.50px;height:1.20px;background:#231f20"></div>
<div style="position:absolute;left:577.00px;top:1037.80px;width:288.50px;height:1.20px;background:#231f20"></div>
<div style="position:absolute;left:653.60px;top:855.40px;width:1.30px;height:227.60px;background:#231f20"></div>
<div class="t" style="left:585.50px;top:860.67px;font-size:12.5px;line-height:15.0px;font-weight:700;color:#231f20;transform:scaleX(0.8400);">Program</div>
<div class="t" style="left:585.50px;top:884.27px;font-size:12.5px;line-height:15.0px;font-weight:700;color:#231f20;transform:scaleX(0.8400);">common</div>
<div class="t" style="left:585.50px;top:907.27px;font-size:12.5px;line-height:15.0px;font-weight:700;color:#231f20;transform:scaleX(0.8400);">Quick</div>
<div class="t" style="left:585.50px;top:930.77px;font-size:12.5px;line-height:15.0px;font-weight:700;color:#231f20;transform:scaleX(0.8400);">Posthaste</div>
<div class="t" style="left:585.50px;top:953.77px;font-size:12.5px;line-height:15.0px;font-weight:700;color:#231f20;transform:scaleX(0.8400);">Jean</div>
<div class="t" style="left:585.50px;top:976.77px;font-size:12.5px;line-height:15.0px;font-weight:700;color:#231f20;transform:scaleX(0.8400);">Standard</div>
<div class="t" style="left:585.50px;top:1000.27px;font-size:12.5px;line-height:15.0px;font-weight:700;color:#231f20;transform:scaleX(0.8400);">Cotton</div>
<div class="t" style="left:585.50px;top:1023.27px;font-size:12.5px;line-height:15.0px;font-weight:700;color:#231f20;transform:scaleX(0.8400);">Silk</div>
<div class="t" style="left:585.50px;top:1046.37px;font-size:12.5px;line-height:15.0px;font-weight:700;color:#231f20;transform:scaleX(0.8400);">Gentle</div>
<div class="t" style="left:664.00px;top:865.42px;font-size:11.5px;line-height:13.8px;font-weight:700;color:#231f20;transform:scaleX(0.8450);">Applicable situation</div>
<div class="t" style="left:664.30px;top:885.22px;font-size:11.5px;line-height:13.8px;font-weight:700;color:#231f20;transform:scaleX(0.8450);">Common washing</div>
<div class="t" style="left:656.90px;top:906.52px;font-size:11.5px;line-height:13.8px;font-weight:700;color:#231f20;transform:scaleX(0.8320);">Fast efficient washing for common laundries</div>
<div class="t" style="left:657.70px;top:922.52px;font-size:11.5px;line-height:13.8px;font-weight:700;color:#231f20;transform:scaleX(0.8862);">Super quick wash of the laundry under 1</div>
<div class="t" style="left:657.70px;top:932.92px;font-size:11.5px;line-height:13.8px;font-weight:700;color:#231f20;transform:scaleX(0.8450);">kg with light soil</div>
<div class="t" style="left:658.90px;top:951.72px;font-size:11.5px;line-height:13.8px;font-weight:700;color:#231f20;transform:scaleX(0.8279);">Washing the relatively big and thick laundries</div>
<div class="t" style="left:658.90px;top:974.92px;font-size:11.5px;line-height:13.8px;font-weight:700;color:#231f20;transform:scaleX(0.8450);">Standard water saving washing</div>
<div class="t" style="left:658.90px;top:997.02px;font-size:11.5px;line-height:13.8px;font-weight:700;color:#231f20;transform:scaleX(0.8450);">Washing the cotton textiles</div>
<div class="t" style="left:658.90px;top:1019.62px;font-size:11.5px;line-height:13.8px;font-weight:700;color:#231f20;transform:scaleX(0.8450);">Washing the silk  textiles</div>
<div class="t" style="left:658.90px;top:1042.62px;font-size:11.5px;line-height:13.8px;font-weight:700;color:#231f20;transform:scaleX(0.8450);">Washing  for laundries with particularity</div>
<div class="t" style="left:658.90px;top:1065.42px;font-size:11.5px;line-height:13.8px;font-weight:700;color:#231f20;transform:scaleX(0.8450);">care</div>
<div style="position:absolute;left:582.60px;top:1127.00px;width:281.90px;height:28.00px;background:#dcdcdc;border-radius:22px 36px 0 0 / 11px 13px 0 0"></div>
<div style="position:absolute;left:583.40px;top:1154.00px;width:281.40px;height:60.80px;border-left:1.6px solid #231f20;border-right:1.6px solid #555;border-bottom:1.5px solid #d8d8d8;border-top:1px solid #eee;box-sizing:border-box"></div>
<div class="t" style="left:591.50px;top:1134.30px;font-size:16.8px;line-height:20.16px;font-weight:700;color:#231f20;">Reserve  button</div>
<div class="t" style="left:598.80px;top:1157.72px;font-size:11.5px;line-height:13.8px;font-weight:700;color:#231f20;transform:scaleX(0.8620);letter-spacing:0.4px;">Push this button,   can select washing closing time,</div>
<div class="b" style="left:586.50px;top:1159.50px;width:8px;height:8px;background:#231f20"></div>
<div class="t" style="left:598.80px;top:1171.52px;font-size:11.5px;line-height:13.8px;font-weight:700;color:#231f20;transform:scaleX(0.8620);letter-spacing:0.4px;">range of choice for 2 ~ 24 hours.</div>
<div class="t" style="left:598.80px;top:1185.42px;font-size:11.5px;line-height:13.8px;font-weight:700;color:#231f20;transform:scaleX(0.8620);letter-spacing:0.4px;">After reservation starts up,   after hold "RESERVE "</div>
<div class="b" style="left:586.50px;top:1187.20px;width:8px;height:8px;background:#231f20"></div>
<div class="t" style="left:598.80px;top:1199.72px;font-size:11.5px;line-height:13.8px;font-weight:700;color:#231f20;transform:scaleX(0.8620);letter-spacing:0.4px;">button by hand,   can display reserving status.</div>
<div style="position:absolute;left:457.5px;top:1270.6px;width:38px;height:38px;border-radius:50%;background:#a9a8a7"></div>
<svg style="position:absolute;left:450px;top:1270px" width="50" height="40" viewBox="450 1270 50 40"><path d="M466.1 1278 L469.1 1278 L469.1 1301 L466.1 1301 L466.1 1283.3 Q463.5 1285.5 461.3 1286.2 L460.6 1283.6 Q464 1281.5 466.1 1278 Z M483.1 1278 L486.1 1278 L486.1 1301 L483.1 1301 L483.1 1283.3 Q480.5 1285.5 478.3 1286.2 L477.6 1283.6 Q481 1281.5 483.1 1278 Z" fill="#1e1a1b"/></svg>
</body></html>
